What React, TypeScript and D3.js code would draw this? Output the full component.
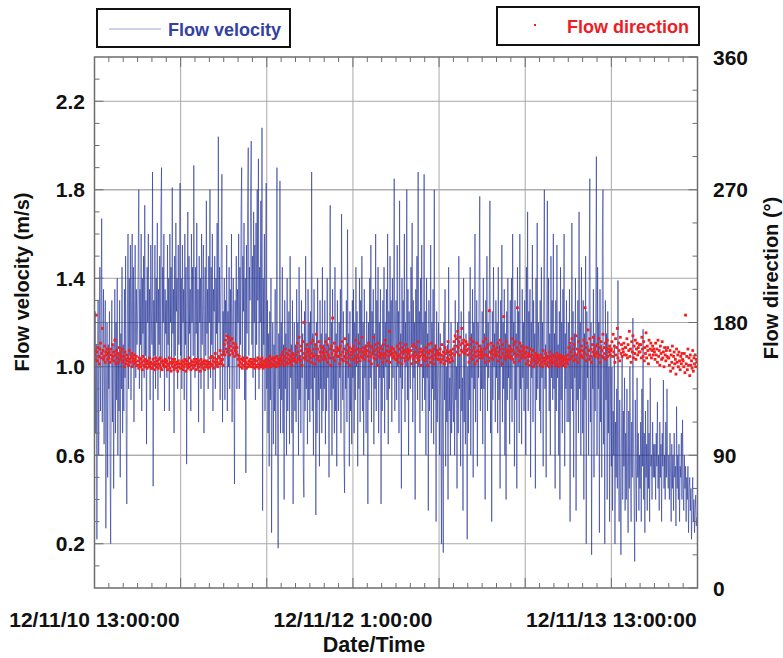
import React from "react";
import * as d3 from "d3";

// ---- data ----
const START_LABEL = "2012-11-10 13:00";
const VELOCITY_STEP_MIN = 5;
const DIRECTION_STEP_MIN = 5;

// Flow velocity (m/s), every 5 minutes (one row = 2 hours)
const velocity: number[] = [
  0.95,1.25,0.7,1.1,0.22,0.9,1.3,0.6,1.15,1.45,0.8,1.2,1.67,0.75,1.05,1.35,0.65,1.0,1.3,0.27,0.85,1.2,0.5,1.1,
  0.9,1.25,0.6,0.2,1.0,1.3,0.75,1.1,0.45,0.95,1.35,0.7,1.2,0.85,1.4,0.6,1.05,0.8,1.3,0.5,1.15,0.9,1.45,0.7,
  1.1,0.8,1.35,0.95,1.5,0.7,0.38,1.2,1.6,0.9,1.4,1.05,1.55,0.85,1.3,1.6,1.0,1.45,0.75,1.25,1.55,0.95,1.35,1.1,
  1.2,1.45,1.8,0.9,1.35,1.1,1.6,0.8,1.4,1.15,1.5,0.95,1.73,1.05,1.3,0.65,1.45,1.2,1.6,1.0,1.35,0.85,1.55,1.25,
  1.1,1.88,0.46,1.3,1.05,1.55,0.9,1.4,1.2,1.65,0.85,1.35,1.1,1.5,0.95,1.7,1.9,1.0,1.45,1.2,1.6,0.8,1.35,1.15,
  1.3,0.95,1.55,1.1,1.4,0.8,1.6,1.2,1.45,1.0,1.81,1.15,1.35,0.7,1.5,1.05,1.65,1.25,1.4,0.9,1.55,1.1,1.3,1.83,
  1.05,1.4,0.9,1.55,1.2,1.35,0.85,1.6,1.1,1.45,0.56,1.25,1.7,1.0,1.5,1.15,1.35,0.8,1.6,1.2,1.45,1.05,1.91,1.2,
  0.95,1.45,1.15,1.65,1.0,1.35,0.75,1.5,1.2,1.4,0.9,1.6,1.1,1.3,1.55,0.7,1.25,1.45,1.05,1.75,1.15,1.35,0.9,1.5,
  1.2,1.8,0.95,1.45,1.1,1.6,0.8,1.35,1.25,1.5,0.9,1.4,1.15,1.65,1.0,2.04,1.2,1.45,0.85,1.3,1.55,1.87,0.75,1.25,
  1.05,1.4,0.85,1.3,1.15,1.55,0.8,1.25,1.0,1.45,0.9,1.35,1.1,1.6,0.75,1.2,1.4,0.95,0.47,1.3,1.05,1.5,0.9,1.35,
  1.2,1.6,0.9,1.45,1.1,1.7,1.9,1.0,1.5,1.25,1.65,0.85,1.4,0.52,1.55,1.15,1.75,1.99,1.05,1.45,1.3,1.8,2.02,1.1,
  1.5,0.95,1.7,1.2,1.55,0.85,1.65,1.1,1.8,1.3,1.94,0.9,1.45,1.2,1.75,1.0,2.08,0.35,1.4,1.1,1.6,0.8,1.35,1.83,
  0.9,1.3,0.7,1.15,0.55,1.25,0.85,1.4,0.25,1.0,1.2,0.65,1.1,0.8,1.35,0.6,1.05,1.9,0.75,0.18,1.15,0.9,1.84,0.7,
  1.2,0.85,1.45,0.7,1.1,0.4,1.3,0.9,1.15,0.6,1.4,0.8,1.05,1.25,0.65,1.5,0.95,1.1,0.7,1.3,0.38,1.0,1.2,0.8,
  1.1,0.75,1.35,0.9,1.2,0.6,1.45,0.85,1.05,0.7,1.3,0.95,1.15,0.55,0.41,1.25,0.8,1.5,0.9,1.1,0.65,1.35,0.85,1.2,
  0.75,1.25,0.9,1.88,0.8,1.15,0.6,1.35,0.95,1.1,0.33,1.2,0.7,1.4,0.85,1.05,0.55,1.3,0.9,1.15,0.7,1.45,0.8,1.1,
  0.9,1.3,0.65,1.15,0.8,1.4,0.95,1.1,0.5,1.25,1.73,0.85,1.2,0.6,1.35,0.9,1.05,0.7,1.45,0.8,1.15,0.55,1.3,1.0,
  0.8,1.2,0.95,1.35,0.7,1.69,1.05,0.85,1.25,0.6,0.43,1.1,0.9,1.3,0.75,1.62,0.95,1.15,0.55,1.25,0.8,1.05,0.65,1.3,
  0.95,1.35,0.7,1.2,0.85,1.45,1.0,1.25,0.55,1.15,0.9,1.4,0.75,1.3,1.05,1.5,0.8,1.2,0.6,1.35,0.95,1.1,0.7,1.25,
  1.0,0.38,1.2,0.85,1.4,0.95,1.55,0.75,1.25,1.05,1.35,0.65,1.15,0.9,1.6,0.8,1.3,1.0,1.45,0.7,1.2,0.95,1.35,0.38,
  1.1,0.8,1.3,0.95,1.45,0.7,1.2,1.0,1.35,0.85,1.6,0.65,1.25,0.9,1.5,1.05,1.3,0.75,1.4,0.95,1.2,1.85,0.8,1.15,
  1.3,0.85,1.55,1.0,1.25,0.7,1.75,0.95,1.15,0.45,1.4,0.9,1.3,1.05,1.6,0.75,1.2,1.0,1.8,0.85,1.35,0.6,1.25,1.05,
  0.9,1.45,1.1,1.65,0.75,1.3,0.95,1.2,0.4,1.35,1.05,1.5,0.85,1.88,1.0,1.25,0.7,1.4,1.1,1.55,0.8,1.2,0.95,1.87,
  0.85,1.25,0.6,1.4,0.95,1.15,0.35,1.3,0.8,1.05,1.55,0.7,1.2,0.9,1.35,0.65,1.8,0.85,1.1,0.3,1.25,0.75,1.0,1.2,
  0.9,0.6,1.15,0.8,0.2,1.05,0.7,0.16,1.2,0.85,1.35,0.55,1.0,0.75,1.1,0.4,1.45,0.8,0.95,0.6,1.2,0.7,1.05,0.85,
  0.75,1.1,0.6,1.3,0.85,1.0,0.45,1.2,0.7,1.5,0.9,1.05,0.55,1.25,0.8,0.95,0.35,1.4,0.75,1.1,0.65,1.15,0.9,0.22,
  1.0,0.7,1.25,0.85,1.45,0.6,1.15,0.95,1.35,0.5,1.2,0.9,1.6,0.75,1.05,1.3,0.55,1.2,0.95,1.4,1.77,0.8,1.1,0.9,
  1.25,0.65,1.4,0.9,1.15,0.4,1.3,1.0,1.5,0.8,1.2,0.95,1.35,1.75,0.7,1.1,0.3,1.25,0.85,1.45,1.0,1.15,0.75,1.3,
  0.95,1.2,0.7,1.45,0.85,1.1,0.45,1.3,1.0,1.55,0.75,1.2,0.9,1.35,0.6,1.15,0.4,1.25,0.85,1.4,0.95,1.1,0.65,1.3,
  0.9,1.4,0.75,1.6,1.05,1.2,0.55,1.3,0.85,1.15,0.45,1.45,1.0,1.25,0.7,1.6,0.9,1.1,0.65,1.35,0.95,1.2,0.8,1.3,
  1.0,0.6,1.45,0.9,1.7,0.8,1.25,1.05,1.35,0.5,1.2,0.95,1.55,0.75,1.3,1.0,1.15,0.45,1.4,0.85,1.65,0.9,1.2,1.05,
  0.8,1.3,0.7,1.45,0.95,1.2,0.55,1.35,1.8,0.9,1.1,0.5,1.25,1.75,1.0,1.4,0.8,1.15,0.6,1.5,0.95,1.3,0.85,1.6,
  0.9,1.15,0.45,1.3,0.8,1.55,0.95,1.1,0.6,1.25,0.4,1.45,0.85,1.2,0.7,1.35,1.0,1.6,0.55,1.15,0.9,1.3,0.75,1.05,
  1.2,0.75,1.35,0.3,1.1,0.9,1.65,0.8,1.25,0.5,1.15,0.95,1.4,0.35,1.05,0.85,1.3,0.7,1.7,0.9,1.2,0.6,1.45,1.0,
  0.7,1.3,0.4,1.15,0.85,1.5,0.2,1.25,0.95,1.1,0.6,1.4,1.85,0.75,1.2,0.15,1.05,0.9,1.35,0.5,1.15,0.8,1.3,1.95,
  0.6,1.45,0.9,1.2,0.25,1.35,0.75,1.1,0.5,1.6,1.8,0.65,1.05,0.2,1.3,0.85,1.15,0.4,1.25,0.7,1.0,0.3,1.1,0.8,
  0.55,1.0,0.35,0.8,0.6,1.1,0.2,0.75,0.5,0.9,0.45,1.39,0.65,0.3,0.85,0.5,0.15,0.7,1.05,0.4,0.8,0.55,0.95,0.35,
  0.7,0.4,0.9,0.55,0.25,0.8,0.45,1.0,0.6,0.3,0.75,0.5,1.22,0.65,0.4,0.12,0.85,0.55,0.3,0.95,0.5,0.7,0.35,0.6,
  0.45,0.75,0.3,0.9,0.55,1.17,0.4,0.7,0.25,0.8,0.5,0.65,0.35,0.85,0.45,0.7,0.3,0.95,0.55,0.6,0.4,0.75,0.5,0.65,
  0.5,0.65,0.4,0.7,0.55,0.84,0.45,0.6,0.35,0.75,0.5,0.65,0.3,0.7,0.55,0.94,0.45,0.6,0.4,0.75,0.5,0.9,0.55,0.45,
  0.6,0.4,0.7,0.5,0.3,0.65,0.45,0.6,0.35,0.7,0.5,0.55,0.28,0.82,0.45,0.6,0.4,0.65,0.3,0.55,0.5,0.7,0.4,0.76,
  0.5,0.35,0.6,0.45,0.55,0.3,0.5,0.4,0.55,0.25,0.45,0.5,0.35,0.45,0.22,0.4,0.5,0.3,0.4,0.25,0.35,0.42,0.28,0.32,
];

// Flow direction (degrees), every 5 minutes (one row = 2 hours)
const direction: number[] = [
  158,161,155,185,160,154,163,157,152,162,166,156,159,176,161,155,157,164,153,160,158,162,155,159,
  156,160,153,162,158,155,165,157,160,154,168,158,152,161,156,159,153,163,158,155,160,157,162,154,
  153,157,150,160,155,152,158,154,156,151,161,155,153,157,159,150,156,154,152,158,155,153,157,151,
  151,154,149,156,152,150,155,153,148,157,151,154,150,155,152,153,149,154,152,150,156,151,153,149,
  152,149,155,151,153,148,156,152,150,154,149,152,155,151,156,149,153,148,154,151,152,150,155,153,
  150,154,148,152,151,156,149,153,147,152,155,150,153,148,155,151,149,153,152,147,154,150,152,149,
  152,149,154,151,148,153,150,155,152,147,154,151,149,152,156,150,152,148,154,151,153,149,151,155,
  151,153,148,155,152,149,154,150,152,147,155,151,153,149,152,154,148,152,150,154,151,153,149,152,
  153,150,156,152,157,151,154,149,156,153,159,151,155,153,150,157,152,156,161,154,152,158,155,151,
  160,165,158,168,162,171,160,166,170,163,158,168,164,161,169,159,166,163,157,161,165,160,163,158,
  155,151,157,153,150,155,152,149,156,154,151,155,150,153,149,156,152,150,154,151,153,155,150,152,
  153,150,155,152,149,154,151,154,150,156,152,149,155,151,153,150,156,152,149,154,151,153,150,155,
  152,155,150,154,151,157,153,150,155,152,156,151,154,151,156,153,150,157,152,155,153,151,154,156,
  155,158,152,160,154,157,151,162,156,153,159,152,158,155,161,153,157,154,151,159,156,154,158,155,
  158,163,153,166,160,155,170,157,154,164,161,151,167,156,180,159,155,162,157,165,160,154,162,158,
  161,156,166,153,159,168,157,162,152,165,158,172,155,162,157,167,154,160,164,157,160,163,155,159,
  162,157,167,155,160,165,153,158,169,156,162,151,164,159,183,156,161,166,154,158,160,163,157,161,
  157,162,152,164,158,155,167,160,154,162,157,169,156,159,153,165,161,156,163,151,158,160,155,162,
  159,164,155,161,157,168,153,162,158,156,166,160,154,162,157,170,156,160,163,158,155,161,159,164,
  161,157,166,154,160,164,157,152,163,159,170,156,161,165,155,158,162,151,166,160,157,163,159,156,
  158,162,153,165,159,156,168,158,161,154,164,160,157,174,153,161,158,163,159,156,162,157,160,155,
  159,155,164,157,153,162,158,166,156,160,152,163,159,156,161,154,165,160,157,162,155,159,161,156,
  157,161,152,164,158,155,165,157,160,153,163,158,156,167,154,160,157,162,151,160,158,155,161,157,
  158,154,163,156,160,151,165,159,156,161,153,166,157,160,155,162,152,158,164,156,159,161,155,158,
  159,155,162,153,158,165,155,160,157,152,163,159,154,161,156,167,155,160,153,158,161,156,159,154,
  162,167,158,171,164,169,160,174,163,167,158,170,165,161,176,160,166,168,162,159,164,167,161,165,
  158,162,153,165,159,169,156,161,155,167,158,163,152,160,157,166,154,161,158,164,160,156,162,158,
  160,156,167,158,162,153,169,158,163,157,165,154,188,160,156,166,159,161,155,164,158,162,157,160,
  158,163,154,166,160,157,168,156,162,152,165,159,184,157,162,155,167,160,157,161,158,164,156,160,
  162,157,169,155,161,165,153,159,167,157,163,190,158,161,154,166,160,156,164,158,161,157,163,159,
  156,160,152,163,157,154,159,151,157,162,153,158,155,161,150,157,154,159,152,156,158,153,157,155,
  155,151,158,153,156,150,161,154,156,152,159,155,151,157,153,156,150,160,154,157,152,155,158,153,
  153,157,151,156,154,159,152,157,150,155,158,153,156,151,157,154,152,156,155,150,157,153,155,152,
  158,163,155,166,160,156,169,157,162,154,165,159,155,171,158,162,153,167,160,156,161,158,164,157,
  161,156,168,159,190,163,154,166,158,175,161,155,169,157,162,153,165,160,170,158,162,157,164,159,
  160,165,156,169,158,163,153,167,161,157,172,156,163,159,166,155,162,168,157,162,160,164,158,161,
  162,167,157,172,160,164,153,169,158,163,176,156,166,161,154,170,159,165,157,162,160,166,158,163,
  163,158,169,156,165,161,174,157,162,153,167,160,171,156,164,159,168,155,162,166,158,163,160,165,
  160,165,156,170,162,157,167,154,163,159,173,156,164,161,152,168,158,162,166,156,161,164,158,162,
  160,155,166,158,162,153,168,157,161,151,164,159,155,167,156,160,150,163,158,154,161,157,163,156,
  156,151,161,147,158,153,164,149,157,160,152,155,145,162,153,158,150,160,154,148,157,152,159,155,
  154,150,159,146,185,152,157,148,162,151,156,144,158,151,154,149,161,147,156,152,158,150,155,153,
];

const TOTAL_HOURS = 84;
const xTickLabelHours = [0, 36, 72];
const xTickLabels = ["12/11/10 13:00:00", "12/11/12 1:00:00", "12/11/13 13:00:00"];
const leftTicks = [0.2, 0.6, 1.0, 1.4, 1.8, 2.2];
const rightTicks = [0, 90, 180, 270, 360];

const FONT = "'Liberation Sans', Arial, Helvetica, sans-serif";

export default function App() {
  const W = 783, H = 658;
  const L = 94.5, R = 697.5, T = 57, B = 588;

  const x = d3.scaleLinear().domain([0, TOTAL_HOURS]).range([L, R]);
  const yL = d3.scaleLinear().domain([0, 2.4]).range([B, T]);
  const yR = d3.scaleLinear().domain([0, 360]).range([B, T]);

  const tv = (i: number) => x((i * VELOCITY_STEP_MIN) / 60);
  const segLine = d3
    .line<[number, number]>()
    .x((d) => tv(d[0]))
    .y((d) => yL(d[1]));
  // each segment is its own path so that overlaps accumulate (dense core dark, lone spikes light)
  const segments = d3.pairs(velocity.map((v, i) => [i, v] as [number, number]));

  const majorX = d3.range(0, TOTAL_HOURS + 0.001, 12);
  const minorX = d3.range(0, TOTAL_HOURS + 0.001, 2).filter((h) => h % 12 !== 0);
  const minorL = d3.range(0.1, 2.4, 0.1).map((v) => +v.toFixed(1)).filter((v) => !leftTicks.includes(v));
  const minorR = d3.range(22.5, 360, 22.5).filter((v) => v % 90 !== 0);

  const grid = "#a8a8a8";
  const frame = "#6e6e6e";

  return (
    <>
      <style>{`body{margin:0;} svg{display:block;}`}</style>
      <svg width={W} height={H} viewBox={`0 0 ${W} ${H}`} data-start={START_LABEL} style={{ fontFamily: FONT }}>
        <rect x={0} y={0} width={W} height={H} fill="#fff" />
        <defs>
          <clipPath id="plotClip">
            <rect x={L} y={T} width={R - L} height={B - T} />
          </clipPath>
        </defs>

        {/* grid */}
        {majorX.slice(1, -1).map((h) => (
          <line key={"gx" + h} x1={x(h)} x2={x(h)} y1={T} y2={B} stroke={grid} strokeWidth={1} />
        ))}
        {leftTicks.map((v) => (
          <line key={"gl" + v} x1={L} x2={R} y1={yL(v)} y2={yL(v)} stroke={grid} strokeWidth={1} />
        ))}
        {rightTicks.slice(1, -1).map((v) => (
          <line key={"gr" + v} x1={L} x2={R} y1={yR(v)} y2={yR(v)} stroke={grid} strokeWidth={1} />
        ))}

        {/* velocity line + direction dots */}
        <g clipPath="url(#plotClip)">
          <g fill="none" stroke="#1f2e94" strokeWidth={1} strokeOpacity={0.58}>
            {segments.map((s, i) => (
              <path key={"v" + i} d={segLine(s) || ""} />
            ))}
          </g>
          {direction.map((d, i) => (
            <rect
              key={"d" + i}
              x={x((i * DIRECTION_STEP_MIN) / 60) - 1.4}
              y={yR(d) - 1.4}
              width={2.8}
              height={2.8}
              fill="#f22020"
            />
          ))}
        </g>

        {/* ticks */}
        {minorX.map((h) => (
          <g key={"tx" + h}>
            <line x1={x(h)} x2={x(h)} y1={B} y2={B - 5} stroke={frame} />
            <line x1={x(h)} x2={x(h)} y1={T} y2={T + 5} stroke={frame} />
          </g>
        ))}
        {majorX.map((h) => (
          <g key={"tX" + h}>
            <line x1={x(h)} x2={x(h)} y1={B} y2={B - 10} stroke={frame} />
            <line x1={x(h)} x2={x(h)} y1={T} y2={T + 10} stroke={frame} />
          </g>
        ))}
        {minorL.map((v) => (
          <line key={"tl" + v} x1={L} x2={L + 5} y1={yL(v)} y2={yL(v)} stroke={frame} />
        ))}
        {leftTicks.map((v) => (
          <line key={"tL" + v} x1={L} x2={L + 9} y1={yL(v)} y2={yL(v)} stroke={frame} />
        ))}
        {minorR.map((v) => (
          <line key={"tr" + v} x1={R} x2={R - 5} y1={yR(v)} y2={yR(v)} stroke={frame} />
        ))}
        {rightTicks.map((v) => (
          <line key={"tR" + v} x1={R} x2={R - 9} y1={yR(v)} y2={yR(v)} stroke={frame} />
        ))}

        {/* frame */}
        <rect x={L} y={T} width={R - L} height={B - T} fill="none" stroke={frame} strokeWidth={1.5} />

        {/* tick labels */}
        {leftTicks.map((v) => (
          <text key={"ll" + v} x={85} y={yL(v) + 7.5} textAnchor="end" fontSize={21} fontWeight="bold" fill="#111">
            {v.toFixed(1)}
          </text>
        ))}
        {rightTicks.map((v) => (
          <text key={"rl" + v} x={713} y={yR(v) + 7.5} textAnchor="start" fontSize={21} fontWeight="bold" fill="#111">
            {v}
          </text>
        ))}
        {xTickLabelHours.map((h, i) => (
          <text key={"xl" + h} x={x(h)} y={627} textAnchor="middle" fontSize={21} fontWeight="bold" fill="#111">
            {xTickLabels[i]}
          </text>
        ))}

        {/* axis titles */}
        <text x={374} y={652} textAnchor="middle" fontSize={21.5} fontWeight="bold" fill="#111">
          Date/Time
        </text>
        <text transform="translate(29,282) rotate(-90)" textAnchor="middle" fontSize={20} fontWeight="bold" fill="#111">
          Flow velocity (m/s)
        </text>
        <text transform="translate(778,278) rotate(-90)" textAnchor="middle" fontSize={20} fontWeight="bold" fill="#111">
          Flow direction (°)
        </text>

        {/* legends */}
        <rect x={97} y={9} width={193} height={38} fill="#fff" stroke="#111" strokeWidth={2} />
        <line x1={109} x2={161} y1={29} y2={29} stroke="#9ea4d6" strokeWidth={1} />
        <text x={168} y={35.5} fontSize={18} fontWeight="bold" fill="#3341a0">
          Flow velocity
        </text>
        <rect x={497} y={7} width={202} height={38} fill="#fff" stroke="#111" strokeWidth={2} />
        <rect x={534} y={24} width={2} height={2} fill="#f01e1e" />
        <text x={567} y={33} fontSize={18} fontWeight="bold" fill="#ee1c24">
          Flow direction
        </text>
      </svg>
    </>
  );
}
